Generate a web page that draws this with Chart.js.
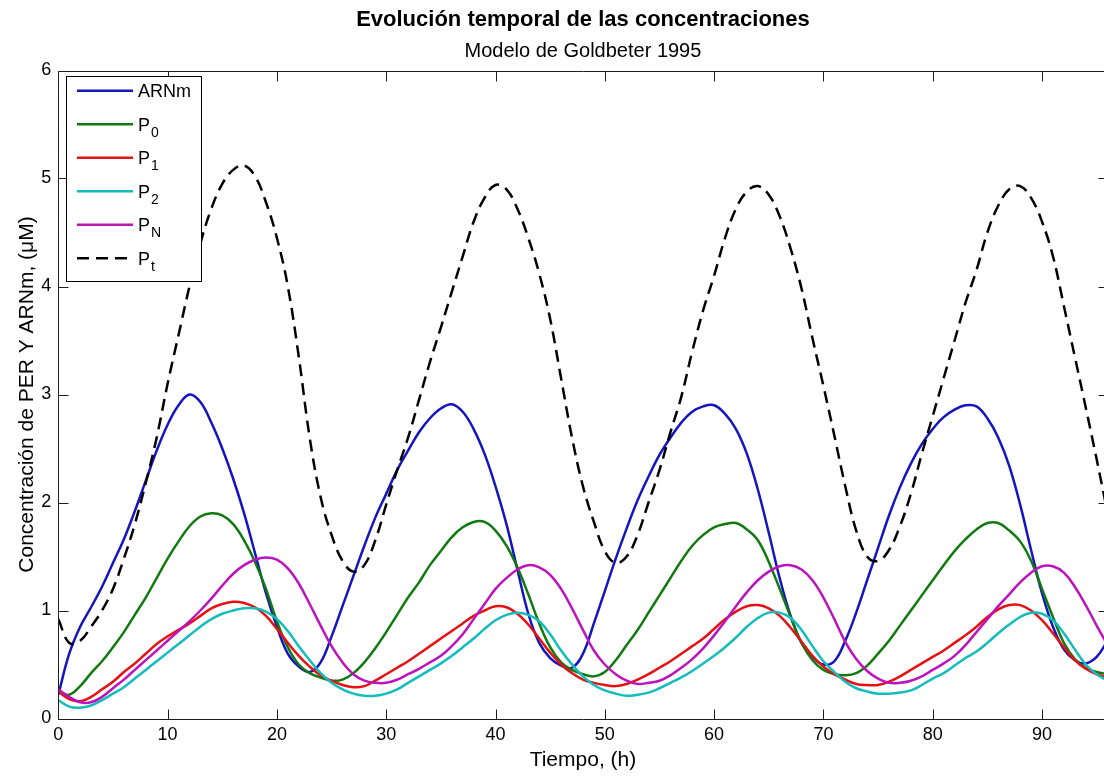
<!DOCTYPE html>
<html lang="es">
<head>
  <meta charset="utf-8" />
  <title>Evolución temporal de las concentraciones</title>
  <script src="https://cdn.jsdelivr.net/npm/chart.js"></script>
  <style>
    html, body { margin: 0; padding: 0; background: #fff; overflow: hidden; }
    #wrapper { width: 1104px; height: 776px; overflow: hidden; }
    canvas { display: block; }
  </style>
</head>
<body>
  <div id="wrapper">
    <canvas id="myChart" width="1112" height="776"></canvas>
  </div>

<script>
// tiempo en horas
const tiempo = [0,1,2,3,4,5,6,7,8,9,10,11,12,13,14,15,16,17,18,19,20,21,22,23,24,25,26,27,28,29,
  30,31,32,33,34,35,36,37,38,39,40,41,42,43,44,45,46,47,48,49,50,51,52,53,54,55,56,57,58,59,
  60,61,62,63,64,65,66,67,68,69,70,71,72,73,74,75,76,77,78,79,80,81,82,83,84,85,86,87,88,89,
  90,91,92,93,94,95,96];

const arnm = [0.22,0.6,0.85,1.03,1.22,1.44,1.66,1.92,2.2,2.48,
  2.72,2.9,3.0,2.93,2.74,2.5,2.22,1.9,1.53,1.16,
  0.85,0.6,0.48,0.43,0.52,0.76,1.04,1.32,1.6,1.86,
  2.08,2.3,2.48,2.65,2.78,2.87,2.91,2.84,2.68,2.45,
  2.15,1.8,1.38,0.97,0.7,0.56,0.49,0.47,0.6,0.88,
  1.18,1.48,1.76,2.02,2.24,2.44,2.6,2.74,2.84,2.89,
  2.9,2.82,2.68,2.45,2.12,1.72,1.3,0.95,0.7,0.57,
  0.5,0.53,0.72,0.98,1.28,1.58,1.88,2.14,2.36,2.54,
  2.68,2.79,2.86,2.9,2.89,2.78,2.6,2.34,1.98,1.56,
  1.16,0.85,0.64,0.54,0.51,0.57,0.72];

const p0 = [0.25,0.22,0.3,0.42,0.53,0.66,0.8,0.96,1.12,1.3,
  1.48,1.64,1.78,1.87,1.9,1.88,1.8,1.65,1.45,1.2,
  0.9,0.66,0.5,0.42,0.38,0.35,0.36,0.42,0.52,0.65,
  0.8,0.96,1.12,1.26,1.42,1.55,1.68,1.77,1.82,1.82,
  1.74,1.6,1.4,1.15,0.88,0.66,0.52,0.45,0.41,0.39,
  0.43,0.54,0.68,0.82,0.98,1.14,1.3,1.46,1.6,1.7,
  1.77,1.8,1.81,1.75,1.65,1.45,1.2,0.94,0.7,0.54,
  0.45,0.41,0.4,0.42,0.49,0.6,0.72,0.86,1.0,1.14,
  1.28,1.42,1.55,1.66,1.75,1.81,1.81,1.74,1.64,1.46,
  1.2,0.94,0.7,0.55,0.47,0.43,0.41];

const p1 = [0.25,0.18,0.16,0.2,0.27,0.34,0.43,0.51,0.6,0.69,
  0.76,0.82,0.88,0.95,1.02,1.06,1.08,1.07,1.03,0.95,
  0.83,0.7,0.58,0.48,0.4,0.35,0.31,0.29,0.3,0.35,
  0.41,0.47,0.53,0.6,0.67,0.74,0.81,0.88,0.95,1.0,
  1.04,1.03,0.97,0.87,0.74,0.61,0.5,0.42,0.36,0.33,
  0.31,0.3,0.32,0.36,0.41,0.47,0.53,0.6,0.67,0.74,
  0.83,0.92,0.99,1.04,1.05,1.02,0.95,0.84,0.71,0.58,
  0.48,0.41,0.36,0.32,0.31,0.31,0.34,0.39,0.45,0.51,
  0.57,0.63,0.7,0.77,0.85,0.94,1.01,1.05,1.05,1.0,
  0.91,0.79,0.66,0.54,0.46,0.41,0.38];

const p2 = [0.17,0.11,0.1,0.12,0.17,0.23,0.29,0.37,0.45,0.53,
  0.61,0.69,0.77,0.85,0.92,0.97,1.0,1.02,1.02,0.99,
  0.92,0.81,0.67,0.54,0.42,0.33,0.27,0.23,0.21,0.21,
  0.23,0.27,0.33,0.39,0.45,0.51,0.58,0.66,0.74,0.83,
  0.91,0.96,0.98,0.96,0.9,0.78,0.63,0.5,0.39,0.31,
  0.26,0.23,0.21,0.22,0.24,0.28,0.33,0.38,0.44,0.51,
  0.58,0.66,0.75,0.85,0.93,0.98,0.98,0.93,0.82,0.67,
  0.53,0.43,0.34,0.28,0.25,0.23,0.23,0.24,0.26,0.31,
  0.37,0.42,0.49,0.56,0.62,0.7,0.79,0.87,0.94,0.98,
  0.97,0.91,0.79,0.64,0.5,0.41,0.35];

const pN = [0.27,0.2,0.15,0.15,0.2,0.28,0.36,0.45,0.54,0.63,
  0.72,0.81,0.9,1.0,1.11,1.23,1.34,1.42,1.47,1.49,
  1.47,1.39,1.25,1.06,0.86,0.67,0.52,0.41,0.35,0.33,
  0.33,0.36,0.41,0.46,0.52,0.58,0.67,0.78,0.92,1.06,
  1.2,1.3,1.38,1.42,1.4,1.33,1.2,1.02,0.82,0.63,
  0.5,0.41,0.35,0.32,0.33,0.35,0.4,0.47,0.55,0.65,
  0.77,0.9,1.04,1.17,1.28,1.36,1.41,1.42,1.38,1.28,
  1.12,0.92,0.71,0.55,0.44,0.37,0.33,0.33,0.35,0.39,
  0.45,0.51,0.58,0.68,0.8,0.92,1.04,1.15,1.26,1.35,
  1.41,1.41,1.35,1.22,1.05,0.86,0.68];

const pt = [0.92,0.7,0.72,0.85,1.0,1.2,1.48,1.8,2.18,2.6,
  3.1,3.55,4.0,4.4,4.72,4.95,5.08,5.12,5.02,4.78,
  4.45,4.0,3.35,2.6,2.05,1.7,1.46,1.36,1.42,1.65,
  1.98,2.3,2.6,2.95,3.3,3.62,3.95,4.28,4.6,4.82,
  4.94,4.9,4.72,4.45,4.12,3.7,3.15,2.6,2.15,1.82,
  1.55,1.44,1.5,1.7,2.0,2.3,2.65,2.98,3.4,3.78,
  4.1,4.45,4.72,4.88,4.93,4.85,4.65,4.35,3.98,3.52,
  3.08,2.62,2.15,1.74,1.5,1.46,1.56,1.78,2.08,2.45,
  2.8,3.15,3.5,3.85,4.15,4.5,4.75,4.9,4.93,4.82,
  4.6,4.28,3.82,3.35,2.88,2.4,1.9];

const nombres = ['ARNm', 'P_0', 'P_1', 'P_2', 'P_N', 'P_t'];
const series = [arnm, p0, p1, p2, pN, pt];
const colores = ['#1414c0', '#107a10', '#e41212', '#14bcbc', '#bc14bc', '#000000'];

const xTicks = [0, 10, 20, 30, 40, 50, 60, 70, 80, 90];
const yTicks = [0, 1, 2, 3, 4, 5, 6];

const FONT = "'Liberation Sans', Arial, Helvetica, sans-serif";

// caja y marcas hacia dentro (estilo matlab)
const ejes = {
  id: 'ejes',
  afterDatasetsDraw(chart) {
    const ctx = chart.ctx;
    const a = chart.chartArea;
    const sx = chart.scales.x, sy = chart.scales.y;
    const L = Math.round(a.left) + 0.5, R = Math.round(a.right) + 0.5;
    const T = Math.round(a.top) + 0.5, B = Math.round(a.bottom) + 0.5;
    ctx.save();
    ctx.setLineDash([]);
    ctx.strokeStyle = '#1e1e1e';
    ctx.lineWidth = 1;
    ctx.beginPath();
    ctx.rect(L, T, R - L, B - T);
    xTicks.forEach(v => {
      const px = Math.round(sx.getPixelForValue(v)) + 0.5;
      ctx.moveTo(px, B); ctx.lineTo(px, B - 10);
      ctx.moveTo(px, T); ctx.lineTo(px, T + 10);
    });
    yTicks.forEach(v => {
      const py = Math.round(sy.getPixelForValue(v)) + 0.5;
      ctx.moveTo(L, py); ctx.lineTo(L + 10, py);
      ctx.moveTo(R, py); ctx.lineTo(R - 10, py);
    });
    ctx.stroke();
    ctx.restore();
  }
};

const leyenda = {
  id: 'leyenda',
  afterDraw(chart) {
    const ctx = chart.ctx;
    const a = chart.chartArea;
    const x0 = Math.round(a.left + 7.7), y0 = Math.round(a.top + 5.5);
    const w = 135, h = 205;
    ctx.save();
    ctx.fillStyle = '#fff';
    ctx.fillRect(x0, y0, w, h);
    ctx.strokeStyle = '#000';
    ctx.lineWidth = 1;
    ctx.strokeRect(x0 + 0.5, y0 + 0.5, w, h);
    chart.data.datasets.forEach((ds, i) => {
      const y = y0 + 14.7 + i * 33.5;
      ctx.strokeStyle = ds.borderColor;
      ctx.lineWidth = ds.borderWidth;
      ctx.setLineDash(ds.borderDash || []);
      ctx.beginPath();
      ctx.moveTo(x0 + 11, y);
      ctx.lineTo(x0 + 67, y);
      ctx.stroke();
      ctx.setLineDash([]);
      const partes = ds.label.split('_');
      ctx.fillStyle = '#000';
      ctx.textBaseline = 'alphabetic';
      ctx.font = '18px ' + FONT;
      ctx.fillText(partes[0], x0 + 72, y + 6.5);
      if (partes[1]) {
        const wb = ctx.measureText(partes[0]).width;
        ctx.font = '14px ' + FONT;
        ctx.fillText(partes[1], x0 + 72 + wb + 1, y + 12.5);
      }
    });
    ctx.restore();
  }
};

const ctx_myChart = document.getElementById('myChart').getContext('2d');
const chart = new Chart(ctx_myChart, {
  type: 'line',
  data: {
    datasets: series.map((s, i) => ({
      label: nombres[i],
      data: tiempo.map((t, k) => ({ x: t, y: s[k] })),
      borderColor: colores[i],
      backgroundColor: colores[i],
      borderWidth: 2.5,
      borderDash: i === 5 ? [12, 7] : [],
      pointRadius: 0,
      tension: 0.4,
      fill: false,
      order: 5 - i,
    }))
  },
  options: {
    responsive: false,
    animation: false,
    layout: { padding: { right: 4.4, left: 0, top: 0, bottom: 0 } },
    plugins: {
      legend: { display: false },
      tooltip: { enabled: false },
      title: {
        display: true,
        fullSize: false,
        text: 'Evolución temporal de las concentraciones',
        color: '#000',
        font: { family: FONT, size: 22, weight: 'bold' },
        padding: { top: 7.1, bottom: 3 }
      },
      subtitle: {
        display: true,
        fullSize: false,
        text: 'Modelo de Goldbeter 1995',
        color: '#000',
        font: { family: FONT, size: 20 },
        padding: { top: 2.5, bottom: 7.5 }
      }
    },
    scales: {
      x: {
        type: 'linear',
        min: 0,
        max: 96,
        grid: { display: false, drawTicks: false },
        border: { display: false },
        ticks: { color: '#000', font: { family: FONT, size: 18 }, padding: 6, maxRotation: 0, autoSkip: false },
        title: {
          display: true,
          text: 'Tiempo, (h)',
          color: '#000',
          font: { family: FONT, size: 21 },
          padding: { top: 0, bottom: 3 }
        },
        afterBuildTicks: s => { s.ticks = xTicks.map(v => ({ value: v })); },
        afterFit: s => { s.height = 57.5; }
      },
      y: {
        min: 0,
        max: 6,
        grid: { display: false, drawTicks: false },
        border: { display: false },
        ticks: { color: '#000', font: { family: FONT, size: 18 }, padding: 7 },
        title: {
          display: true,
          text: 'Concentración de PER Y ARNm, (μM)',
          color: '#000',
          font: { family: FONT, size: 21 },
          padding: { top: 15, bottom: 0 }
        },
        afterBuildTicks: s => { s.ticks = yTicks.map(v => ({ value: v })); },
        afterFit: s => { s.width = 58.3; }
      }
    }
  },
  plugins: [ejes, leyenda]
});
</script>
</body>
</html>
